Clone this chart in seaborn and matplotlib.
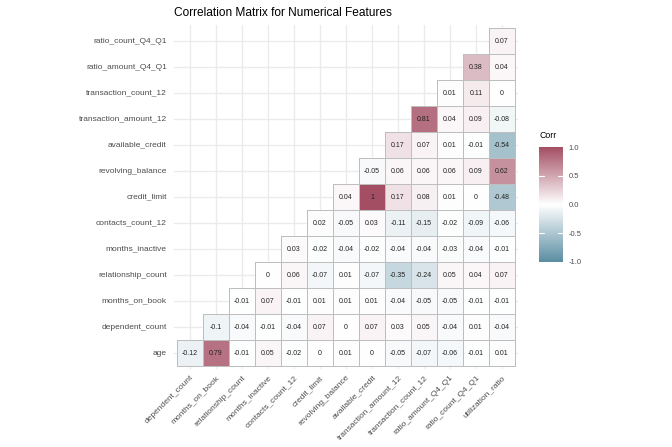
import numpy as np
import pandas as pd
import matplotlib
matplotlib.use("Agg")
import matplotlib.pyplot as plt
from matplotlib.colors import LinearSegmentedColormap, to_rgba
import seaborn as sns

# ── data ─────────────────────────────────────────────────────────────────────
ROW_LABELS = ["age", "dependent_count", "months_on_book", "relationship_count",
              "months_inactive", "contacts_count_12", "credit_limit",
              "revolving_balance", "available_credit", "transaction_amount_12",
              "transaction_count_12", "ratio_amount_Q4_Q1", "ratio_count_Q4_Q1"]
COL_LABELS = ["dependent_count", "months_on_book", "relationship_count",
              "months_inactive", "contacts_count_12", "credit_limit",
              "revolving_balance", "available_credit", "transaction_amount_12",
              "transaction_count_12", "ratio_amount_Q4_Q1", "ratio_count_Q4_Q1",
              "utilization_ratio"]

# each row starts at the column with the same index (lower triangle layout)
age_corr           = [-0.12, 0.79, -0.01, 0.05, -0.02, 0, 0.01, 0, -0.05, -0.07, -0.06, -0.01, 0.01]
dependent_corr     = [-0.1, -0.04, -0.01, -0.04, 0.07, 0, 0.07, 0.03, 0.05, -0.04, 0.01, -0.04]
months_book_corr   = [-0.01, 0.07, -0.01, 0.01, 0.01, 0.01, -0.04, -0.05, -0.05, -0.01, -0.01]
relationship_corr  = [0, 0.06, -0.07, 0.01, -0.07, -0.35, -0.24, 0.05, 0.04, 0.07]
inactive_corr      = [0.03, -0.02, -0.04, -0.02, -0.04, -0.04, -0.03, -0.04, -0.01]
contacts_corr      = [0.02, -0.05, 0.03, -0.11, -0.15, -0.02, -0.09, -0.06]
credit_limit_corr  = [0.04, 1, 0.17, 0.08, 0.01, 0, -0.48]
revolving_corr     = [-0.05, 0.06, 0.06, 0.06, 0.09, 0.62]
available_corr     = [0.17, 0.07, 0.01, -0.01, -0.54]
trans_amount_corr  = [0.81, 0.04, 0.09, -0.08]
trans_count_corr   = [0.01, 0.11, 0]
ratio_amount_corr  = [0.38, 0.04]
ratio_count_corr   = [0.07]

ROWS = [age_corr, dependent_corr, months_book_corr, relationship_corr,
        inactive_corr, contacts_corr, credit_limit_corr, revolving_corr,
        available_corr, trans_amount_corr, trans_count_corr,
        ratio_amount_corr, ratio_count_corr]

# ── build matrix (top row first for heatmap) ─────────────────────────────────
n = len(COL_LABELS)
mat = np.full((len(ROW_LABELS), n), np.nan)
for r, vals in enumerate(ROWS):
    mat[r, r:r + len(vals)] = vals
df = pd.DataFrame(mat, index=ROW_LABELS, columns=COL_LABELS).iloc[::-1]
annot = df.map(lambda v: "" if np.isnan(v) else f"{v:g}")

# ── plot ─────────────────────────────────────────────────────────────────────
sns.set_style("white")
plt.rcParams["font.family"] = ["Liberation Sans", "DejaVu Sans"]

cmap = LinearSegmentedColormap.from_list("corr", ["#5A8DA2", "#FFFFFF", "#A34E63"])

W, H = 672, 447
fig = plt.figure(figsize=(W / 100, H / 100), dpi=100)
ax = fig.add_axes([174.4 / W, 1 - 368.6 / H, 343.2 / W, 343.2 / H])
cax = fig.add_axes([539 / W, 1 - 262 / H, 24 / W, 115 / H])

sns.heatmap(df, ax=ax, cbar_ax=cax, cmap=cmap, vmin=-1, vmax=1,
            annot=annot.values, fmt="", annot_kws={"size": 5, "color": "#222222"},
            linewidths=0.6, linecolor="#BEBEBE", square=False)

# outline only the filled cells
mesh = ax.collections[0]
empty = df.isna().values.ravel()
edges = np.tile(to_rgba("#BEBEBE"), (empty.size, 1))
edges[empty, 3] = 0.0
mesh.set_edgecolor(edges)

ax.set_xlim(-0.1, n + 0.1)
ax.set_ylim(n + 0.1, -0.1)
ax.set_axisbelow(True)
ax.grid(True, color="#EBEBEB", lw=1.0, zorder=0)
for s in ax.spines.values():
    s.set_visible(False)
ax.tick_params(length=0, labelsize=6, labelcolor="#4D4D4D")
ax.tick_params(axis="y", pad=5.5)
ax.tick_params(axis="x", pad=4)
plt.setp(ax.get_xticklabels(), rotation=45, ha="right", va="top",
         rotation_mode="anchor")
plt.setp(ax.get_yticklabels(), rotation=0)
ax.set_xlabel("")
ax.set_ylabel("")
ax.set_title("Correlation Matrix for Numerical Features", loc="left",
             fontsize=8.6, color="black", pad=7)

# colour bar
cax.set_frame_on(False)
cax.tick_params(length=0, labelsize=5.5, labelcolor="#4D4D4D", pad=4)
cax.set_yticks([-1, -0.5, 0, 0.5, 1])
cax.set_yticklabels(["-1.0", "-0.5", "0.0", "0.5", "1.0"])
for t in [-0.5, 0.5]:
    cax.axhline(t, xmin=0, xmax=0.2, color="white", lw=0.8)
    cax.axhline(t, xmin=0.8, xmax=1, color="white", lw=0.8)
fig.text(540 / W, 1 - 136 / H, "Corr", ha="left", va="center",
         fontsize=6.3, color="black")

fig.savefig("out.png", dpi=100)
